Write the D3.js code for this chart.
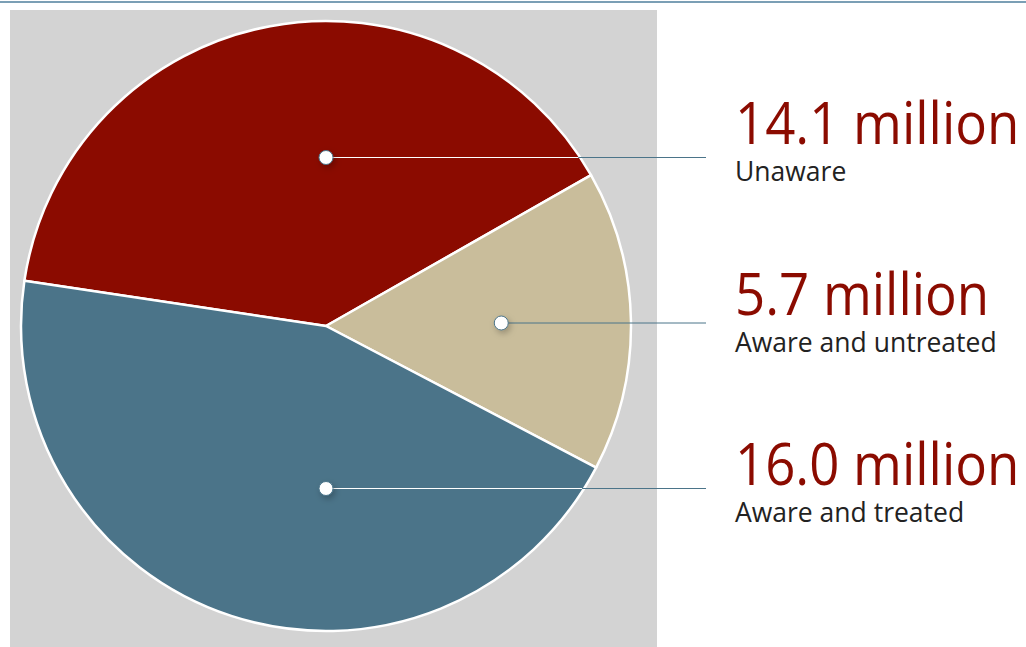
<!DOCTYPE html>
<html>
<head>
<meta charset="utf-8">
<script src="https://cdn.jsdelivr.net/npm/d3@7"></script>
<style>
  html, body { margin: 0; padding: 0; background: #fff; }
  svg { display: block; }
</style>
</head>
<body>
<svg id="pie_chart" width="1026" height="647"></svg>
<script>
// data
var categories = ["Unaware", "Aware and untreated", "Aware and treated"];
var values = [14.1, 5.7, 16.0];
var valueLabels = ["14.1 million", "5.7 million", "16.0 million"];
var colors = ["#8b0b00", "#c9bd9b", "#4b7489"];

var data = categories.map((c, i) => ({category: c, value: values[i], label: valueLabels[i]}));

var svg = d3.select("#pie_chart"),
	width = +svg.attr("width"),
	height = +svg.attr("height");

var cx = 326, cy = 326, radius = 305;

var color = d3.scaleOrdinal()
	.domain(categories)
	.range(colors);

// top rule
svg.append("line")
	.attr("x1", 0).attr("x2", width)
	.attr("y1", 2).attr("y2", 2)
	.attr("stroke", "#4f7f9c")
	.attr("stroke-width", 1.5);

// grey panel behind the pie
svg.append("rect")
	.attr("x", 10).attr("y", 10)
	.attr("width", 647).attr("height", height - 10)
	.attr("fill", "#d3d3d3");

var defs = svg.append("defs");
defs.append("filter")
	.attr("id", "dotShadow")
	.attr("x", "-100%").attr("y", "-100%")
	.attr("width", "300%").attr("height", "300%")
	.append("feDropShadow")
	.attr("dx", 2).attr("dy", 3)
	.attr("stdDeviation", 3)
	.attr("flood-color", "#000")
	.attr("flood-opacity", 0.25);

// the small slice sits (nearly) centred on the right hand side
var total = d3.sum(values);
var tilt = -1 * Math.PI / 180;
var start = Math.PI / 2 + tilt - 2 * Math.PI * (values[0] + values[1] / 2) / total;

var pie = d3.pie()
	.sort(null)
	.value(d => d.value)
	.startAngle(start)
	.endAngle(start + 2 * Math.PI);

var arc = d3.arc()
	.innerRadius(0)
	.outerRadius(radius);

var arcs = pie(data);

var g = svg.append("g")
	.attr("transform", `translate(${cx},${cy})`);

g.selectAll("path.slice")
	.data(arcs)
	.enter().append("path")
	.attr("class", "slice")
	.attr("d", arc)
	.attr("fill", d => color(d.data.category))
	.attr("stroke", "#fff")
	.attr("stroke-width", 2.5)
	.attr("stroke-linejoin", "round");

// rows for the leader lines and for the labels
var lineY = d3.scalePoint()
	.domain(categories)
	.range([157.5, 488.5]);

var labelY = d3.scalePoint()
	.domain(categories)
	.range([144, 485]);

var lineEnd = 706, labelX = 735;

// midpoint of the part of the horizontal line that falls in the slice
function dotX(d, y) {
	var dy = y - cy, xs = [];
	for (var x = -radius; x <= radius; x += 0.5) {
		var dist = Math.sqrt(x * x + dy * dy);
		if (dist > radius || dist < radius * 0.15) continue;
		var a = Math.atan2(x, -dy);
		while (a < d.startAngle) a += 2 * Math.PI;
		while (a >= d.startAngle + 2 * Math.PI) a -= 2 * Math.PI;
		if (a <= d.endAngle) xs.push(x);
	}
	return cx + (d3.min(xs) + d3.max(xs)) / 2;
}

arcs.forEach(d => {
	var y = lineY(d.data.category);
	d.dx = dotX(d, y);
	d.dy = y;
	d.edge = cx + Math.sqrt(radius * radius - (y - cy) * (y - cy));
	d.dark = d3.lab(color(d.data.category)).l < 60;
});

var leaders = svg.append("g");

leaders.selectAll("line.outer")
	.data(arcs)
	.enter().append("line")
	.attr("class", "outer")
	.attr("x1", d => d.dx).attr("x2", lineEnd)
	.attr("y1", d => d.dy).attr("y2", d => d.dy)
	.attr("stroke", "#4b7489")
	.attr("stroke-width", 1);

leaders.selectAll("line.inner")
	.data(arcs.filter(d => d.dark))
	.enter().append("line")
	.attr("class", "inner")
	.attr("x1", d => d.dx).attr("x2", d => d.edge - 2)
	.attr("y1", d => d.dy).attr("y2", d => d.dy)
	.attr("stroke", "#fff")
	.attr("stroke-width", 1);

leaders.selectAll("circle")
	.data(arcs)
	.enter().append("circle")
	.attr("cx", d => d.dx)
	.attr("cy", d => d.dy)
	.attr("r", 7)
	.attr("fill", "#fff")
	.attr("stroke", "#4b7489")
	.attr("stroke-width", 1)
	.attr("filter", "url(#dotShadow)");

var labels = svg.append("g");

labels.selectAll("text.value")
	.data(data)
	.enter().append("text")
	.attr("class", "value")
	.attr("transform", d => `translate(${labelX},${labelY(d.category)}) scale(0.91,1)`)
	.attr("font-family", "'Open Sans', 'Noto Sans', sans-serif")
	.attr("font-size", 58)
	.attr("fill", "#8b0b00")
	.text(d => d.label);

labels.selectAll("text.category")
	.data(data)
	.enter().append("text")
	.attr("class", "category")
	.attr("transform", d => `translate(${labelX},${labelY(d.category) + 37})`)
	.attr("font-family", "'Open Sans', 'Noto Sans', sans-serif")
	.attr("font-size", 26.5)
	.attr("fill", "#222")
	.text(d => d.category);
</script>
</body>
</html>
